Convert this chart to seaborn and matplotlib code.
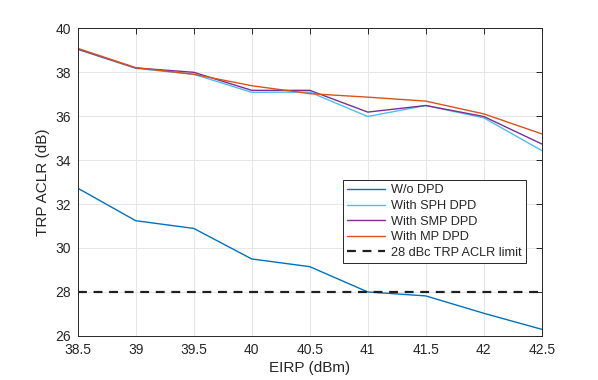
import numpy as np
import pandas as pd
import seaborn as sns
import matplotlib
matplotlib.use("Agg")
import matplotlib.pyplot as plt

# EIRP (dBm)
eirp = [38.5, 39, 39.5, 40, 40.5, 41, 41.5, 42, 42.5]

# TRP ACLR (dB) per case
wo_dpd = [32.72, 31.24, 30.89, 29.5, 29.15, 28.0, 27.82, 27.03, 26.3]
sph_dpd = [39.03, 38.17, 37.9, 37.08, 37.09, 35.98, 36.48, 35.92, 34.43]
smp_dpd = [39.05, 38.19, 37.99, 37.17, 37.17, 36.18, 36.48, 35.98, 34.73]
mp_dpd = [39.08, 38.2, 37.9, 37.38, 37.02, 36.86, 36.68, 36.1, 35.19]

aclr_limit = 28

names = ["W/o DPD", "With SPH DPD", "With SMP DPD", "With MP DPD"]
colors = ["#0072BD", "#4DBEEE", "#7E2F8E", "#D95319"]

df = pd.DataFrame({
    "EIRP": eirp * 4,
    "ACLR": wo_dpd + sph_dpd + smp_dpd + mp_dpd,
    "case": [n for n in names for _ in eirp],
})

sns.set_style("whitegrid")
plt.rcParams["font.family"] = ["Liberation Sans", "DejaVu Sans"]

fig = plt.figure(figsize=(5.98, 3.8), dpi=100)
ax = fig.add_axes([0.130, 0.116, 0.776, 0.810])

sns.lineplot(data=df, x="EIRP", y="ACLR", hue="case", hue_order=names,
             palette=colors, linewidth=1.0, ax=ax)
ax.axhline(aclr_limit, color="#202020", linestyle=(0, (4, 3)), linewidth=1.6,
           label="28 dBc TRP ACLR limit")

ax.set_xlim(38.5, 42.5)
ax.set_ylim(26, 40)
ax.set_xticks(eirp)
ax.set_xticklabels(["38.5", "39", "39.5", "40", "40.5", "41", "41.5", "42", "42.5"])
ax.set_yticks(np.arange(26, 41, 2))

ax.grid(True, color="#e6e6e6", linewidth=0.7)
for s in ax.spines.values():
    s.set_color("#262626")
    s.set_linewidth(0.7)
ax.tick_params(direction="in", top=True, right=True, length=4, width=0.7,
               colors="#262626", labelsize=10, pad=5)

ax.set_xlabel("EIRP (dBm)", fontsize=11, color="#262626", labelpad=3)
ax.set_ylabel("TRP ACLR (dB)", fontsize=11, color="#262626", labelpad=4)

handles, labels = ax.get_legend_handles_labels()
leg = ax.legend(handles, labels, loc="upper right",
                bbox_to_anchor=(526 / 598, 1 - 180 / 380),
                bbox_transform=fig.transFigure, fontsize=9.2, frameon=True,
                fancybox=False, edgecolor="#262626", framealpha=1,
                borderpad=0.35, labelspacing=0.28, handlelength=2.9,
                handletextpad=0.5, borderaxespad=0)
leg.get_frame().set_linewidth(0.7)

fig.savefig("out.png", dpi=100)
